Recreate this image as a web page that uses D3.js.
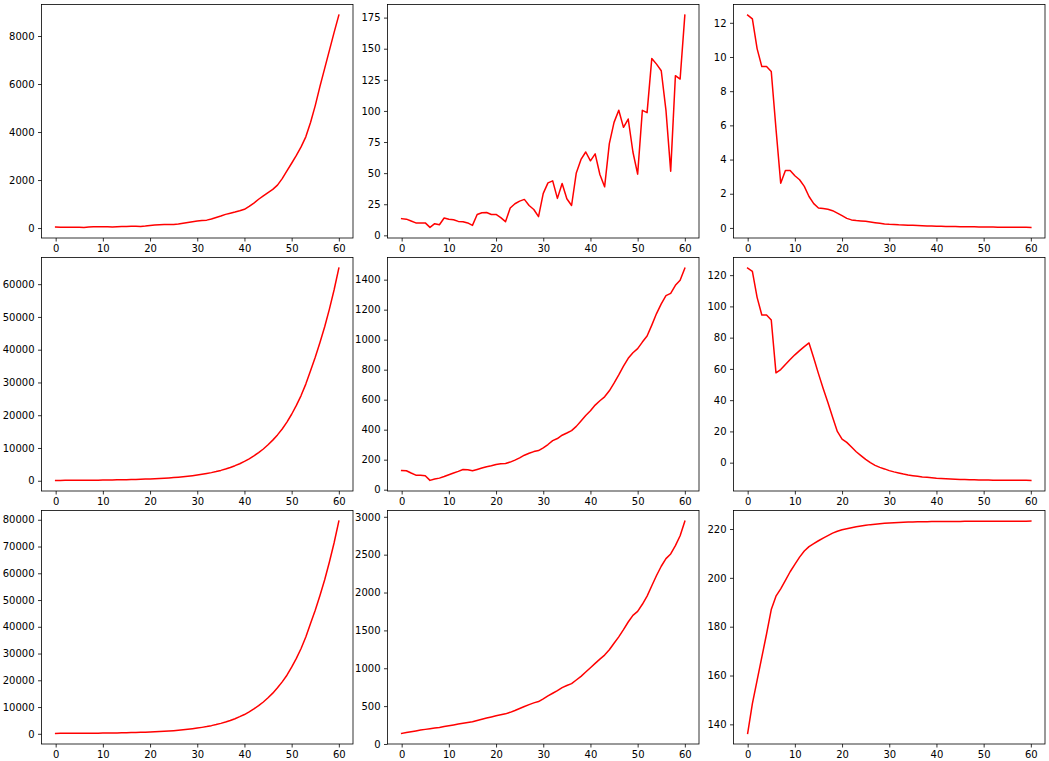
<!DOCTYPE html>
<html>
<head>
<meta charset="utf-8">
<script src="https://cdn.jsdelivr.net/npm/d3@7"></script>
<style>
  html, body { margin: 0; padding: 0; background: #fff; }
  svg text { font-family: "DejaVu Sans", sans-serif; font-size: 10px; fill: #000; }
</style>
</head>
<body>
<svg id="chart" width="1049" height="761"></svg>
<script>
// ---------- data ----------
const xValues = d3.range(0, 61);
const xTicks = [0, 10, 20, 30, 40, 50, 60];

const seriesA1 = [40,38,36,35,33,30,28,42,55,56,55,50,45,52,62,70,72,71,70,85,110,128,140,144,147,150,165,200,235,265,290,310,330,375,440,500,570,620,665,720,780,900,1040,1200,1340,1480,1610,1790,2060,2380,2700,3030,3380,3800,4400,5100,5900,6650,7400,8150,8870];
const seriesB1 = [13.4,13,11.5,10,10,10,6.4,9.4,8.5,13.9,13,12.5,11.2,11,10,8,16.8,18.2,18.4,16.8,16.8,14.2,11,22,25.4,27.5,28.9,24,20.8,15,33.7,42.2,43.8,29.7,41.7,29.4,24,50.2,61,67,59.9,65.5,48.9,39,73.7,90.8,100.5,86.8,93.5,67,49.2,100.5,98.6,142.2,137.6,132.3,100.5,51.6,128.3,125.6,177];
const seriesC1 = [12.45,12.23,10.49,9.44,9.44,9.15,5.8,2.62,3.36,3.36,3.05,2.82,2.43,1.84,1.42,1.17,1.13,1.09,1.01,0.87,0.72,0.56,0.47,0.43,0.41,0.39,0.35,0.31,0.27,0.23,0.21,0.2,0.18,0.17,0.16,0.15,0.14,0.13,0.12,0.11,0.1,0.095,0.09,0.085,0.08,0.075,0.07,0.066,0.062,0.058,0.055,0.052,0.049,0.046,0.044,0.042,0.04,0.038,0.036,0.034,0.032];

const seriesA2 = [112,115,118,122,128,136,146,158,172,188,206,226,248,272,300,330,365,405,450,500,560,620,690,770,860,960,1080,1210,1360,1530,1730,1950,2200,2480,2800,3160,3580,4050,4600,5200,5900,6700,7600,8600,9700,11000,12400,14000,15800,17900,20300,23000,26000,29500,33600,37700,42200,47000,52400,58300,64900];
const seriesB2 = [128,126,111,97,97,93,62,71,77,88,100,111,122,135,133,126,135,144,153,159,168,173,175,184,197,212,230,243,254,261,279,301,327,341,363,378,394,422,458,495,526,564,593,619,659,710,765,823,876,913,940,984,1024,1097,1174,1239,1294,1309,1362,1396,1477];
const seriesC2 = [124.5,122.4,105.8,94.5,94.5,91.3,57.5,59.6,62.8,66,69,71.7,74.3,76.6,67,57,47.5,38.5,29,20,15.1,13,10,7,4.5,2.1,0,-1.7,-3,-4,-5.1,-5.9,-6.6,-7.3,-7.9,-8.3,-8.7,-9.1,-9.4,-9.7,-10,-10.2,-10.35,-10.5,-10.6,-10.7,-10.8,-10.9,-11,-11.05,-11.1,-11.15,-11.2,-11.22,-11.25,-11.27,-11.3,-11.31,-11.32,-11.33,-11.34];

const seriesA3 = [155,160,165,172,180,190,200,210,225,240,260,285,310,340,370,410,450,500,560,620,690,770,850,950,1060,1180,1330,1490,1670,1880,2130,2400,2700,3050,3450,3900,4400,4950,5650,6400,7200,8200,9300,10500,11900,13500,15200,17200,19400,21900,24900,28200,31900,36200,41200,46200,51700,57600,64200,71400,79500];
const seriesB3 = [140,151,162,173,184,193,201,210,219,230,241,252,263,274,285,293,311,326,342,357,372,385,398,418,442,468,495,520,543,560,596,635,670,705,744,772,797,845,893,950,1007,1065,1121,1174,1244,1330,1414,1510,1611,1699,1752,1845,1953,2090,2225,2347,2448,2509,2619,2750,2943];
const seriesC3 = [136.3,148.5,158,167.5,177,187,192.5,195.5,199,202.5,205.5,208.5,211,212.8,214,215.2,216.3,217.3,218.3,219.1,219.7,220.1,220.5,220.9,221.2,221.5,221.8,222.0,222.2,222.35,222.5,222.6,222.7,222.78,222.85,222.9,222.95,222.99,223.02,223.04,223.06,223.08,223.1,223.11,223.12,223.13,223.14,223.15,223.16,223.17,223.18,223.19,223.2,223.2,223.21,223.21,223.22,223.22,223.23,223.23,223.24];

const yTicksA1 = [0,2000,4000,6000,8000];
const yTicksB1 = [0,25,50,75,100,125,150,175];
const yTicksC1 = [0,2,4,6,8,10,12];
const yTicksA2 = [0,10000,20000,30000,40000,50000,60000];
const yTicksB2 = [0,200,400,600,800,1000,1200,1400];
const yTicksC2 = [0,20,40,60,80,100,120];
const yTicksA3 = [0,10000,20000,30000,40000,50000,60000,70000,80000];
const yTicksB3 = [0,500,1000,1500,2000,2500,3000];
const yTicksC3 = [140,160,180,200,220];

// ---------- layout ----------
const colLeft = [41.5, 387.5, 733.5];
const rowTop = [4.5, 257.5, 510.5];
const panelW = 311.5, panelH = 233.5;

const panels = [
  {r:0,c:0,data:seriesA1,ticks:yTicksA1},
  {r:0,c:1,data:seriesB1,ticks:yTicksB1},
  {r:0,c:2,data:seriesC1,ticks:yTicksC1},
  {r:1,c:0,data:seriesA2,ticks:yTicksA2},
  {r:1,c:1,data:seriesB2,ticks:yTicksB2},
  {r:1,c:2,data:seriesC2,ticks:yTicksC2},
  {r:2,c:0,data:seriesA3,ticks:yTicksA3},
  {r:2,c:1,data:seriesB3,ticks:yTicksB3},
  {r:2,c:2,data:seriesC3,ticks:yTicksC3}
];

const svg = d3.select("#chart");
svg.append("rect").attr("width",1049).attr("height",761).attr("fill","#fff");

panels.forEach(p => {
  const g = svg.append("g").attr("transform", `translate(${colLeft[p.c]},${rowTop[p.r]})`);
  const xmin = d3.min(xValues), xmax = d3.max(xValues);
  const xm = (xmax - xmin) * 0.05;
  const x = d3.scaleLinear().domain([xmin - xm, xmax + xm]).range([0, panelW]);
  const ymin = d3.min(p.data), ymax = d3.max(p.data);
  const ym = (ymax - ymin) * 0.05;
  const y = d3.scaleLinear().domain([ymin - ym, ymax + ym]).range([panelH, 0]);

  const line = d3.line().x((d,i) => x(xValues[i])).y(d => y(d));
  g.append("path").datum(p.data)
    .attr("d", line).attr("fill","none").attr("stroke","#ff0000")
    .attr("stroke-width",1.5).attr("stroke-linejoin","round").attr("stroke-linecap","square");

  const xa = g.append("g").attr("transform",`translate(0,${panelH})`)
    .call(d3.axisBottom(x).tickValues(xTicks).tickSize(3.5).tickPadding(3.5).tickFormat(d3.format("d")));
  const ya = g.append("g")
    .call(d3.axisLeft(y).tickValues(p.ticks).tickSize(3.5).tickPadding(3.5).tickFormat(d3.format("d")));
  [xa, ya].forEach(a => {
    a.select(".domain").remove();
    a.selectAll(".tick line").attr("stroke","#000").attr("stroke-width",0.8);
    a.selectAll("text").attr("font-family","DejaVu Sans, sans-serif").attr("font-size",10).attr("fill","#000");
  });

  g.append("rect").attr("x",0).attr("y",0).attr("width",panelW).attr("height",panelH)
    .attr("fill","none").attr("stroke","#000").attr("stroke-width",0.8);
});
</script>
</body>
</html>
